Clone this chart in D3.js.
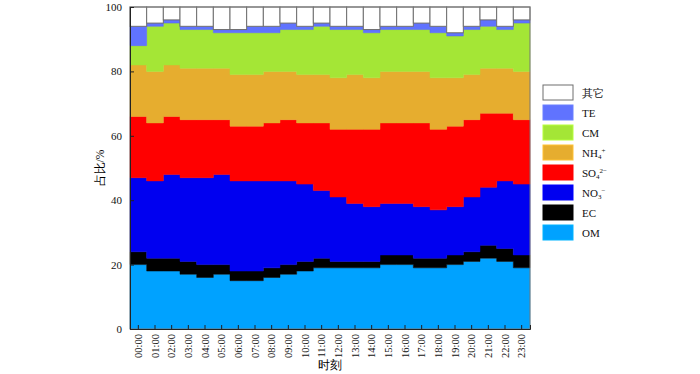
<!DOCTYPE html>
<html>
<head>
<meta charset="utf-8">
<script src="https://cdn.jsdelivr.net/npm/d3@7"></script>
<style>
  body { margin: 0; background: #fff; }
  text { font-family: "Liberation Serif", "Times New Roman", serif; }
</style>
</head>
<body>
<div id="chart"></div>
<script>
// hourly share (%) of each component
const hours = ["00:00","01:00","02:00","03:00","04:00","05:00","06:00","07:00","08:00","09:00","10:00","11:00",
               "12:00","13:00","14:00","15:00","16:00","17:00","18:00","19:00","20:00","21:00","22:00","23:00"];
const OM   = [20,18,18,17,16,17,15,15,16,17,18,19,19,19,19,20,20,19,19,20,21,22,21,19];
const EC   = [4,4,4,4,4,3,3,3,3,3,3,3,2,2,2,3,3,3,3,3,3,4,4,4];
const NO3  = [23,24,26,26,27,28,28,28,27,26,24,21,20,18,17,16,16,16,15,15,17,18,21,22];
const SO4  = [19,18,18,18,18,17,17,17,18,19,19,21,21,23,24,25,25,26,25,25,24,23,21,20];
const NH4  = [16,16,16,16,16,16,16,16,16,15,15,15,16,17,16,16,16,16,16,15,14,14,14,15];
const CM   = [6,14,13,12,12,11,13,13,12,13,14,15,15,14,14,13,13,13,14,13,14,13,12,15];
const TE   = [6,1,1,1,1,1,1,2,2,2,1,1,1,1,1,1,1,2,2,1,1,2,1,1];
const other= [6,5,4,6,6,7,7,6,6,5,6,5,6,6,7,6,6,5,6,8,6,4,6,4];
const yTicks = [0,20,40,60,80,100];

// layers from bottom to top
const layers = [
  {key:"OM",  vals:OM,   color:"#00A2FF"},
  {key:"EC",  vals:EC,   color:"#000000"},
  {key:"NO3", vals:NO3,  color:"#0000F0"},
  {key:"SO4", vals:SO4,  color:"#FF0000"},
  {key:"NH4", vals:NH4,  color:"#E6AD2F"},
  {key:"CM",  vals:CM,   color:"#A4E636"},
  {key:"TE",  vals:TE,   color:"#6073FF"},
  {key:"other", vals:other, color:"#FFFFFF"}
];

const table = hours.map((h, i) => {
  const row = {hour: h};
  layers.forEach(l => row[l.key] = l.vals[i]);
  return row;
});

const width = 700, height = 374;
const margin = {top: 7, right: 170, bottom: 45, left: 130};

const svg = d3.select("#chart").append("svg")
  .attr("width", width).attr("height", height);

const x = d3.scaleBand().domain(hours).range([margin.left, width - margin.right]).padding(0);
const y = d3.scaleLinear().domain([0, 100]).range([height - margin.bottom, margin.top]);

const stacked = d3.stack().keys(layers.map(l => l.key))(table);

// each hour gives two points (left and right edge of its band) so the layer steps
const stepPoints = s => s.flatMap(d => [
  {x: x(d.data.hour), y0: d[0], y1: d[1]},
  {x: x(d.data.hour) + x.bandwidth(), y0: d[0], y1: d[1]}
]);
const area = d3.area()
  .x(p => p.x)
  .y0(p => y(p.y0))
  .y1(p => y(p.y1));

const g = svg.append("g");
stacked.forEach((s, li) => {
  const l = layers[li];
  if (l.key === "other") {
    // white cells keep their outlines, as in the original
    g.append("g").selectAll("rect")
      .data(s)
      .join("rect")
        .attr("x", d => x(d.data.hour))
        .attr("width", x.bandwidth())
        .attr("y", d => y(d[1]))
        .attr("height", d => y(d[0]) - y(d[1]))
        .attr("fill", "#fff")
        .attr("stroke", "#6e6e6e")
        .attr("stroke-width", 1);
  } else {
    g.append("path")
      .datum(stepPoints(s))
      .attr("d", area)
      .attr("fill", l.color)
      .attr("stroke", l.key === "TE" ? "#5565EE" : l.color)
      .attr("stroke-width", 0.5);
  }
});

// frame
svg.append("rect")
  .attr("x", margin.left).attr("y", margin.top)
  .attr("width", width - margin.right - margin.left)
  .attr("height", height - margin.bottom - margin.top)
  .attr("fill", "none").attr("stroke", "#777").attr("stroke-width", 1);

// y axis, ticks pointing in
const yAxis = svg.append("g")
  .attr("transform", `translate(${margin.left},0)`)
  .call(d3.axisLeft(y).tickValues(yTicks).tickSize(-4).tickPadding(8));
yAxis.select(".domain").attr("stroke", "#222");
yAxis.selectAll(".tick line").attr("stroke", "#222");
yAxis.selectAll("text").attr("font-size", 11).attr("fill", "#111")
  .attr("font-family", "Liberation Serif, serif");

// x axis
const xAxis = svg.append("g")
  .attr("transform", `translate(0,${height - margin.bottom})`)
  .call(d3.axisBottom(x).tickSize(-4).tickPadding(6));
xAxis.select(".domain").attr("stroke", "#222");
xAxis.selectAll(".tick line").attr("stroke", "#222");
xAxis.selectAll("text")
  .attr("font-size", 10.5).attr("fill", "#111")
  .attr("font-family", "Liberation Serif, serif")
  .attr("transform", "rotate(-90)")
  .attr("text-anchor", "end")
  .attr("dy", "0.35em")
  .attr("x", -5).attr("y", 0);

// axis titles
svg.append("text")
  .attr("x", (margin.left + width - margin.right) / 2)
  .attr("y", 369)
  .attr("text-anchor", "middle")
  .attr("font-size", 11.5)
  .attr("font-family", "Noto Sans CJK SC, serif")
  .text("时刻");

svg.append("text")
  .attr("transform", `translate(104,${(margin.top + height - margin.bottom) / 2}) rotate(-90)`)
  .attr("text-anchor", "middle")
  .attr("font-size", 11.5)
  .attr("font-family", "Noto Sans CJK SC, serif")
  .text("占比/%");

// legend, top entry first
const legend = svg.append("g").attr("transform", "translate(543,85)");
const legendItems = layers.slice().reverse();
legendItems.forEach((l, i) => {
  const row = legend.append("g").attr("transform", `translate(0,${i * 20})`);
  row.append("rect")
    .attr("width", 30).attr("height", 15)
    .attr("fill", l.color)
    .attr("stroke", l.key === "other" ? "#6e6e6e" : d3.color(l.color).brighter(0.3))
    .attr("stroke-width", 1);
  const t = row.append("text")
    .attr("x", 39).attr("y", 11.5)
    .attr("font-size", 11).attr("fill", "#111");
  if (l.key === "other") {
    t.attr("font-family", "Noto Sans CJK SC, serif").text("其它");
  } else if (l.key === "NH4") {
    t.append("tspan").text("NH");
    t.append("tspan").attr("font-size", 7).attr("dy", 2).text("4");
    t.append("tspan").attr("font-size", 7).attr("dy", -6).text("+");
  } else if (l.key === "SO4") {
    t.append("tspan").text("SO");
    t.append("tspan").attr("font-size", 7).attr("dy", 2).text("4");
    t.append("tspan").attr("font-size", 7).attr("dy", -6).text("2−");
  } else if (l.key === "NO3") {
    t.append("tspan").text("NO");
    t.append("tspan").attr("font-size", 7).attr("dy", 2).text("3");
    t.append("tspan").attr("font-size", 7).attr("dy", -6).text("−");
  } else {
    t.text(l.key);
  }
});
</script>
</body>
</html>
